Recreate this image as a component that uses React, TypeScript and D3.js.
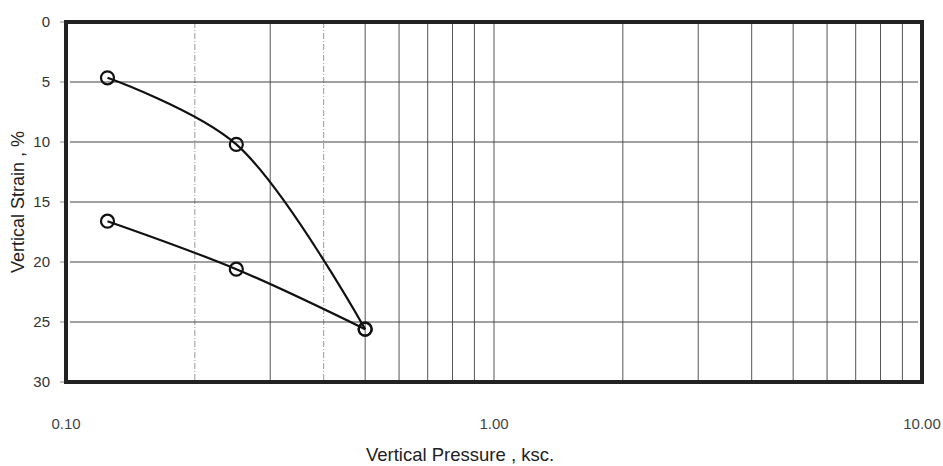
import React from "react";
import * as d3 from "d3";

const loadingPressure = [0.125, 0.25, 0.5];
const loadingStrain = [4.65, 10.2, 25.6];
const unloadingPressure = [0.125, 0.25, 0.5];
const unloadingStrain = [16.6, 20.6, 25.6];
const yTicks = [0, 5, 10, 15, 20, 25, 30];
const xTickLabels = ["0.10", "1.00", "10.00"];
const xTickValues = [0.1, 1, 10];
const lightGridValues = [0.2, 0.4];

const W = 943;
const H = 466;
const L = 66, R = 922, T = 22, B = 382;

export default function App() {
  const x = d3.scaleLog().domain([0.1, 10]).range([L, R]);
  const y = d3.scaleLinear().domain([0, 30]).range([T, B]);

  const minor: number[] = [];
  for (const dec of [0.1, 1]) {
    for (let k = 2; k <= 9; k++) minor.push(+(dec * k).toFixed(2));
  }
  minor.push(1);

  const line = d3
    .line<[number, number]>()
    .x((d) => x(d[0]))
    .y((d) => y(d[1]))
    .curve(d3.curveCatmullRom.alpha(0.5));

  const s1: [number, number][] = loadingPressure.map((p, i) => [p, loadingStrain[i]]);
  const s2: [number, number][] = unloadingPressure.map((p, i) => [p, unloadingStrain[i]]);

  const font = "'Liberation Sans', Arial, sans-serif";

  return (
    <svg width={W} height={H} style={{ position: "absolute", left: 0, top: 0, background: "#fff" }}>
      <rect x={0} y={0} width={W} height={H} fill="#fff" />
      {/* vertical grid */}
      {minor.map((v) => {
        const light = lightGridValues.some((l) => Math.abs(l - v) < 1e-6);
        return (
          <line
            key={"v" + v}
            x1={x(v)}
            x2={x(v)}
            y1={T}
            y2={B}
            stroke={light ? "#999" : "#555"}
            strokeWidth={1}
            strokeDasharray={light ? "6,2,1,2" : undefined}
          />
        );
      })}
      {/* horizontal grid */}
      {yTicks.slice(1, -1).map((v) => (
        <line key={"h" + v} x1={L + 4} x2={R - 4} y1={y(v)} y2={y(v)} stroke="#444" strokeWidth={1.2} />
      ))}
      {/* y ticks */}
      {yTicks.map((v) => (
        <g key={"yt" + v}>
          <line x1={L - 6} x2={L} y1={y(v)} y2={y(v)} stroke="#888" strokeWidth={1} />
          <text x={50} y={y(v)} dy="0.35em" textAnchor="end" fontFamily={font} fontSize={15} fill="#333">
            {v}
          </text>
        </g>
      ))}
      {/* x tick labels */}
      {xTickValues.map((v, i) => (
        <text key={"xt" + v} x={x(v)} y={429} textAnchor="middle" fontFamily={font} fontSize={15} fill="#444">
          {xTickLabels[i]}
        </text>
      ))}
      {/* lines */}
      <path d={line(s1) || ""} fill="none" stroke="#111" strokeWidth={2.2} />
      <path d={line(s2) || ""} fill="none" stroke="#111" strokeWidth={2.2} />
      {[...s1, ...s2].map((d, i) => (
        <circle key={"c" + i} cx={x(d[0])} cy={y(d[1])} r={6.5} fill="none" stroke="#111" strokeWidth={2.2} />
      ))}
      {/* frame */}
      <rect x={L} y={T} width={R - L} height={B - T} fill="none" stroke="#222" strokeWidth={4} />
      {/* titles */}
      <text x={460} y={461} textAnchor="middle" fontFamily={font} fontSize={18.5} fill="#222">
        Vertical Pressure , ksc.
      </text>
      <text
        transform={`translate(24, 202) rotate(-90)`}
        textAnchor="middle"
        fontFamily={font}
        fontSize={18}
        fill="#222"
      >
        Vertical Strain , %
      </text>
    </svg>
  );
}
